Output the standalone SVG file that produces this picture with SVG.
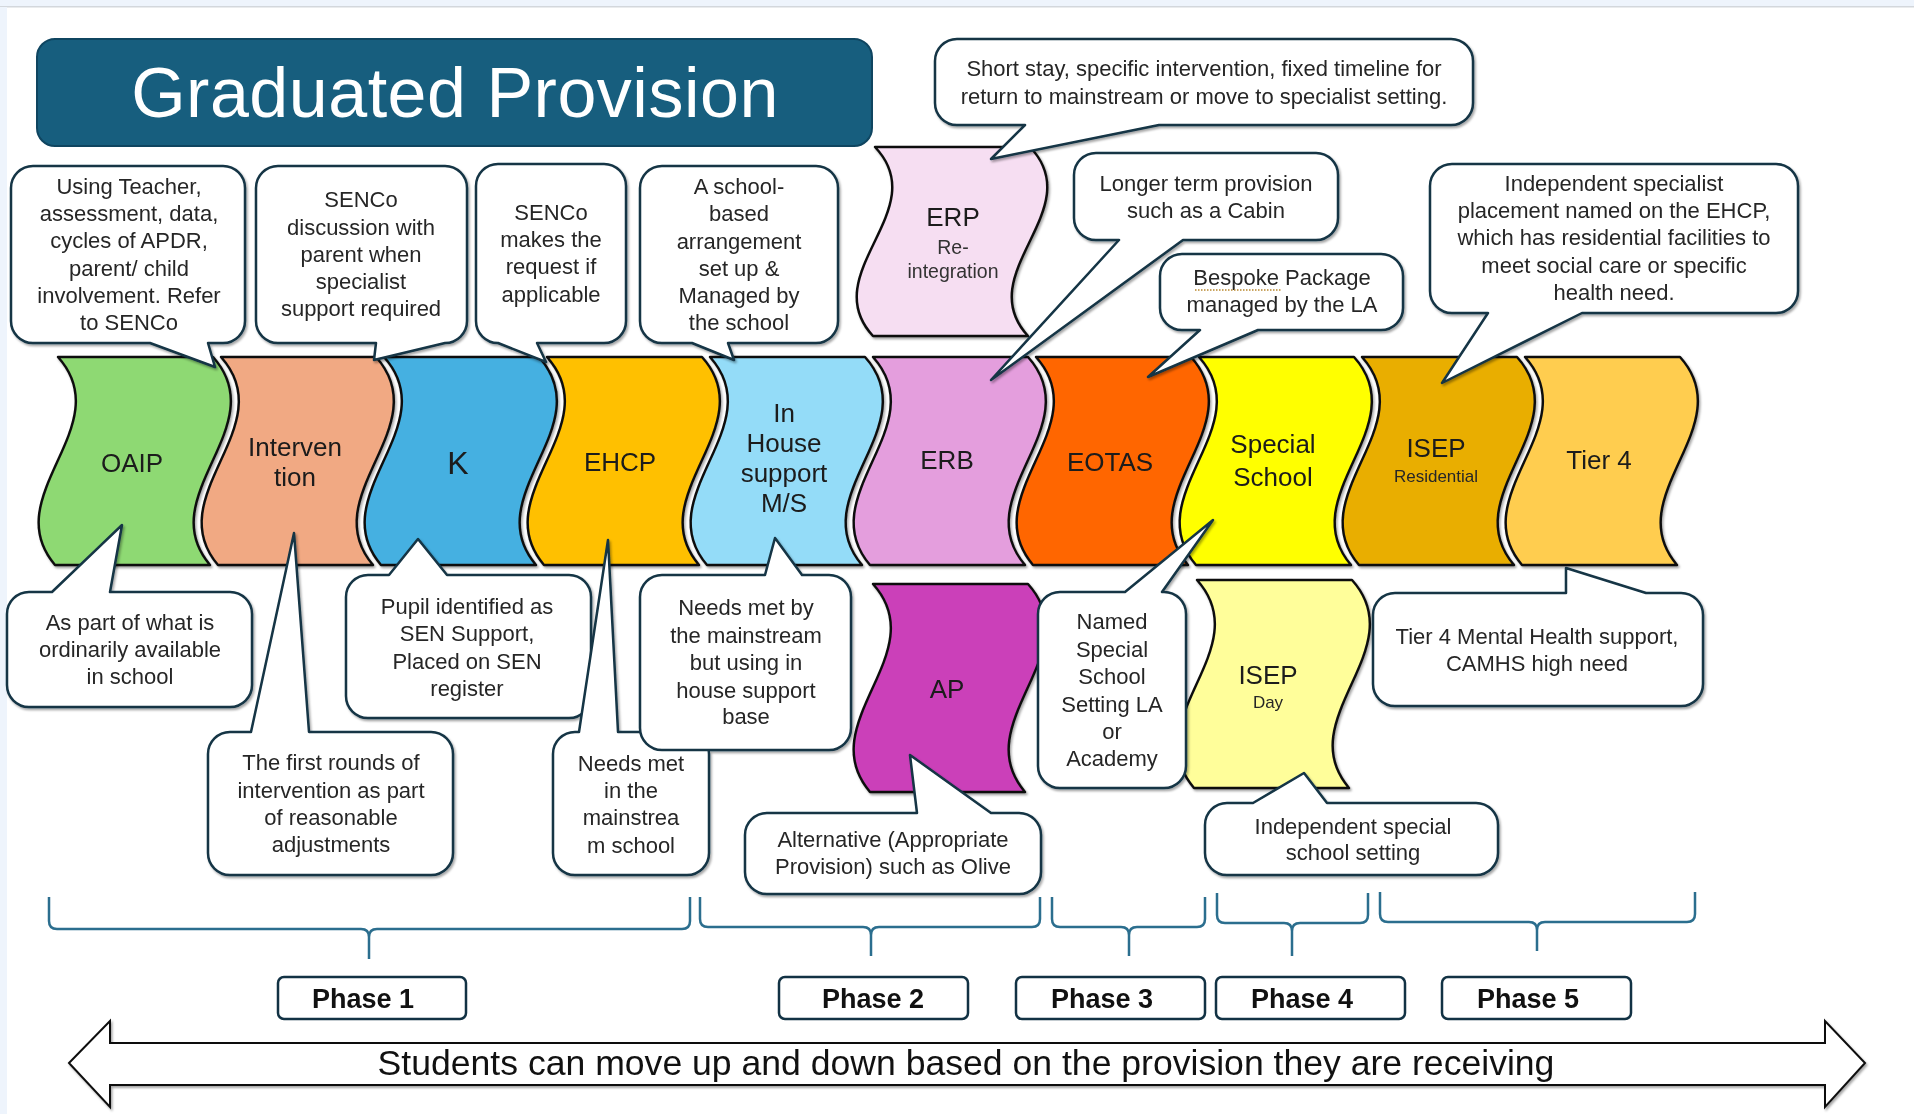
<svg xmlns="http://www.w3.org/2000/svg" xmlns:xlink="http://www.w3.org/1999/xlink" width="1914" height="1114" viewBox="0 0 1914 1114">
<defs>
<style>
text{font-family:"Liberation Sans",Arial,sans-serif;text-anchor:middle}
.ct{font-size:22px;fill:#262626}
.lb{font-size:26px;fill:#1a1a1a}
.sm{font-size:17px;fill:#262626}
.md{font-size:19.5px;fill:#333}
.wave{stroke:#111;stroke-width:2.5;stroke-linejoin:round}
.call{fill:#fff;stroke:#133445;stroke-width:2.5;stroke-linejoin:round}
.brace{fill:none;stroke:#2B6E8E;stroke-width:2.5}
.phase{fill:#fff;stroke:#123244;stroke-width:2.5}
.ph{font-size:27px;font-weight:bold;fill:#111}
</style>
<filter id="sh" x="-10%" y="-10%" width="125%" height="125%">
<feDropShadow dx="1.5" dy="2" stdDeviation="1" flood-color="#000" flood-opacity="0.35"/>
</filter>
<path id="wv" d="M0,0 C62,69 -62,139 -3,208 L152,208 C93,139 217,69 155,0 Z"/>
<path id="wvs" d="M0,0 C60,63 -60,126 -2,189 L153,189 C95,126 215,63 155,0 Z"/>
</defs>
<rect width="1914" height="1114" fill="#fff"/>
<rect width="1914" height="6" fill="#EEF4FC"/>
<rect y="6" width="1914" height="1.5" fill="#D3D7DC"/>
<rect y="7" width="7" height="1107" fill="#EEF4FC"/>

<g id="title">
<rect x="37" y="39" width="835" height="107" rx="18" fill="#175E7E" stroke="#0F4560" stroke-width="2"/>
<text x="455" y="117" style="font-size:70px;fill:#fff;letter-spacing:0.5px">Graduated Provision</text>
</g>

<g id="shapes" filter="url(#sh)">
<g id="oaip"><use xlink:href="#wv" x="58" y="357" fill="#8ED973" class="wave"/><text class="lb" x="132" y="472">OAIP</text></g>
<g id="intervention"><use xlink:href="#wv" x="221" y="357" fill="#F1A983" class="wave"/><text class="lb" x="295" y="456">Interven</text><text class="lb" x="295" y="486">tion</text></g>
<g id="k"><use xlink:href="#wv" x="384" y="357" fill="#45B0E1" class="wave"/><text class="lb" x="458" y="474" style="font-size:32px">K</text></g>
<g id="ehcp"><use xlink:href="#wv" x="547" y="357" fill="#FFC000" class="wave"/><text class="lb" x="620" y="471">EHCP</text></g>
<g id="inhouse"><use xlink:href="#wv" x="710" y="357" fill="#94DCF8" class="wave"/><text class="lb" x="784" y="422">In</text><text class="lb" x="784" y="452">House</text><text class="lb" x="784" y="482">support</text><text class="lb" x="784" y="512">M/S</text></g>
<g id="erb"><use xlink:href="#wv" x="873" y="357" fill="#E49EDD" class="wave"/><text class="lb" x="947" y="469">ERB</text></g>
<g id="eotas"><use xlink:href="#wv" x="1036" y="357" fill="#FF6600" class="wave"/><text class="lb" x="1110" y="471">EOTAS</text></g>
<g id="special"><use xlink:href="#wv" x="1199" y="357" fill="#FFFF00" class="wave"/><text class="lb" x="1273" y="453">Special</text><text class="lb" x="1273" y="486">School</text></g>
<g id="isepres"><use xlink:href="#wv" x="1362" y="357" fill="#E9AE05" class="wave"/><text class="lb" x="1436" y="457">ISEP</text><text class="sm" x="1436" y="482">Residential</text></g>
<g id="tier4"><use xlink:href="#wv" x="1525" y="357" fill="#FFCD4F" class="wave"/><text class="lb" x="1599" y="469">Tier 4</text></g>
<g id="erp"><use xlink:href="#wvs" x="875" y="147" fill="#F6DEF2" class="wave"/><text class="lb" x="953" y="226">ERP</text><text class="md" x="953" y="254">Re-</text><text class="md" x="953" y="278">integration</text></g>
<g id="ap"><use xlink:href="#wv" x="873" y="584" fill="#CB3FB9" class="wave"/><text class="lb" x="947" y="698">AP</text></g>
<g id="isepday"><use xlink:href="#wv" x="1197" y="580" fill="#FFFE9A" class="wave"/><text class="lb" x="1268" y="684">ISEP</text><text class="sm" x="1268" y="708">Day</text></g>
</g>

<g id="callouts" filter="url(#sh)">
<g id="c1"><path class="call" d="M33,166 H223 A22,22 0 0 1 245,188 V321 A22,22 0 0 1 223,343 H208 L215,367 L150,343 H33 A22,22 0 0 1 11,321 V188 A22,22 0 0 1 33,166 Z"/>
<text class="ct" x="129" y="194">Using Teacher,</text><text class="ct" x="129" y="221">assessment, data,</text><text class="ct" x="129" y="248">cycles of APDR,</text><text class="ct" x="129" y="276">parent/ child</text><text class="ct" x="129" y="303">involvement. Refer</text><text class="ct" x="129" y="330">to SENCo</text></g>
<g id="c2"><path class="call" d="M278,166 H445 A22,22 0 0 1 467,188 V321 A22,22 0 0 1 445,343 L374,360 L376,343 H278 A22,22 0 0 1 256,321 V188 A22,22 0 0 1 278,166 Z"/>
<text class="ct" x="361" y="207">SENCo</text><text class="ct" x="361" y="235">discussion with</text><text class="ct" x="361" y="262">parent when</text><text class="ct" x="361" y="289">specialist</text><text class="ct" x="361" y="316">support required</text></g>
<g id="c3"><path class="call" d="M498,164 H604 A22,22 0 0 1 626,186 V321 A22,22 0 0 1 604,343 H537 L546,362 L498,343 A22,22 0 0 1 476,321 V186 A22,22 0 0 1 498,164 Z"/>
<text class="ct" x="551" y="220">SENCo</text><text class="ct" x="551" y="247">makes the</text><text class="ct" x="551" y="274">request if</text><text class="ct" x="551" y="302">applicable</text></g>
<g id="c4"><path class="call" d="M662,166 H816 A22,22 0 0 1 838,188 V321 A22,22 0 0 1 816,343 H728 L734,360 L692,343 H662 A22,22 0 0 1 640,321 V188 A22,22 0 0 1 662,166 Z"/>
<text class="ct" x="739" y="194">A school-</text><text class="ct" x="739" y="221">based</text><text class="ct" x="739" y="249">arrangement</text><text class="ct" x="739" y="276">set up &amp;</text><text class="ct" x="739" y="303">Managed by</text><text class="ct" x="739" y="330">the school</text></g>
<g id="c5"><path class="call" d="M957,39 H1451 A22,22 0 0 1 1473,61 V103 A22,22 0 0 1 1451,125 H1159 L991,159 L1025,125 H957 A22,22 0 0 1 935,103 V61 A22,22 0 0 1 957,39 Z"/>
<text class="ct" x="1204" y="76">Short stay, specific intervention, fixed timeline for</text><text class="ct" x="1204" y="104">return to mainstream or move to specialist setting.</text></g>
<g id="c7"><path class="call" d="M1182,254 H1381 A22,22 0 0 1 1403,276 V308 A22,22 0 0 1 1381,330 H1258 L1148,377 L1200,330 H1182 A22,22 0 0 1 1160,308 V276 A22,22 0 0 1 1182,254 Z"/>
<text class="ct" x="1282" y="285">Bespoke Package</text><text class="ct" x="1282" y="312">managed by the LA</text>
<line x1="1195" y1="290" x2="1282" y2="290" stroke="#B8862B" stroke-width="1.5" stroke-dasharray="1.5,1.5"/></g>
<g id="c6"><path class="call" d="M1096,153 H1316 A22,22 0 0 1 1338,175 V218 A22,22 0 0 1 1316,240 H1183 L991,380 L1119,240 H1096 A22,22 0 0 1 1074,218 V175 A22,22 0 0 1 1096,153 Z"/>
<text class="ct" x="1206" y="191">Longer term provision</text><text class="ct" x="1206" y="218">such as a Cabin</text></g>
<g id="c8"><path class="call" d="M1452,164 H1776 A22,22 0 0 1 1798,186 V291 A22,22 0 0 1 1776,313 H1582 L1442,383 L1488,313 H1452 A22,22 0 0 1 1430,291 V186 A22,22 0 0 1 1452,164 Z"/>
<text class="ct" x="1614" y="191">Independent specialist</text><text class="ct" x="1614" y="218">placement named on the EHCP,</text><text class="ct" x="1614" y="245">which has residential facilities to</text><text class="ct" x="1614" y="273">meet social care or specific</text><text class="ct" x="1614" y="300">health need.</text></g>
<g id="c9"><path class="call" d="M29,592 H52 L122,525 L110,592 H230 A22,22 0 0 1 252,614 V685 A22,22 0 0 1 230,707 H29 A22,22 0 0 1 7,685 V614 A22,22 0 0 1 29,592 Z"/>
<text class="ct" x="130" y="630">As part of what is</text><text class="ct" x="130" y="657">ordinarily available</text><text class="ct" x="130" y="684">in school</text></g>
<g id="c10"><path class="call" d="M230,732 H251 L294,533 L309,732 H431 A22,22 0 0 1 453,754 V853 A22,22 0 0 1 431,875 H230 A22,22 0 0 1 208,853 V754 A22,22 0 0 1 230,732 Z"/>
<text class="ct" x="331" y="770">The first rounds of</text><text class="ct" x="331" y="798">intervention as part</text><text class="ct" x="331" y="825">of reasonable</text><text class="ct" x="331" y="852">adjustments</text></g>
<g id="c11"><path class="call" d="M368,575 H389 L418,539 L447,575 H569 A22,22 0 0 1 591,597 V696 A22,22 0 0 1 569,718 H368 A22,22 0 0 1 346,696 V597 A22,22 0 0 1 368,575 Z"/>
<text class="ct" x="467" y="614">Pupil identified as</text><text class="ct" x="467" y="641">SEN Support,</text><text class="ct" x="467" y="669">Placed on SEN</text><text class="ct" x="467" y="696">register</text></g>
<g id="c12"><path class="call" d="M575,732 H579 L608,540 L618,732 H687 A22,22 0 0 1 709,754 V853 A22,22 0 0 1 687,875 H575 A22,22 0 0 1 553,853 V754 A22,22 0 0 1 575,732 Z"/>
<text class="ct" x="631" y="771">Needs met</text><text class="ct" x="631" y="798">in the</text><text class="ct" x="631" y="825">mainstrea</text><text class="ct" x="631" y="853">m school</text></g>
<g id="c13"><path class="call" d="M662,575 H765 L775,538 L802,575 H829 A22,22 0 0 1 851,597 V728 A22,22 0 0 1 829,750 H662 A22,22 0 0 1 640,728 V597 A22,22 0 0 1 662,575 Z"/>
<text class="ct" x="746" y="615">Needs met by</text><text class="ct" x="746" y="643">the mainstream</text><text class="ct" x="746" y="670">but using in</text><text class="ct" x="746" y="698">house support</text><text class="ct" x="746" y="724">base</text></g>
<g id="c14"><path class="call" d="M767,813 H917 L910,755 L991,813 H1019 A22,22 0 0 1 1041,835 V872 A22,22 0 0 1 1019,894 H767 A22,22 0 0 1 745,872 V835 A22,22 0 0 1 767,813 Z"/>
<text class="ct" x="893" y="847">Alternative (Appropriate</text><text class="ct" x="893" y="874">Provision) such as Olive</text></g>
<g id="c15"><path class="call" d="M1060,592 H1125 L1213,520 L1162,592 H1164 A22,22 0 0 1 1186,614 V766 A22,22 0 0 1 1164,788 H1060 A22,22 0 0 1 1038,766 V614 A22,22 0 0 1 1060,592 Z"/>
<text class="ct" x="1112" y="629">Named</text><text class="ct" x="1112" y="657">Special</text><text class="ct" x="1112" y="684">School</text><text class="ct" x="1112" y="712">Setting LA</text><text class="ct" x="1112" y="739">or</text><text class="ct" x="1112" y="766">Academy</text></g>
<g id="c16"><path class="call" d="M1395,593 H1566 V568 L1646,593 H1681 A22,22 0 0 1 1703,615 V684 A22,22 0 0 1 1681,706 H1395 A22,22 0 0 1 1373,684 V615 A22,22 0 0 1 1395,593 Z"/>
<text class="ct" x="1537" y="644">Tier 4 Mental Health support,</text><text class="ct" x="1537" y="671">CAMHS high need</text></g>
<g id="c17"><path class="call" d="M1227,803 H1253 L1304,773 L1327,803 H1476 A22,22 0 0 1 1498,825 V853 A22,22 0 0 1 1476,875 H1227 A22,22 0 0 1 1205,853 V825 A22,22 0 0 1 1227,803 Z"/>
<text class="ct" x="1353" y="834">Independent special</text><text class="ct" x="1353" y="860">school setting</text></g>
</g>

<g id="braces">
<path class="brace" d="M49,897 V921 Q49,929 57,929 H361 Q369,929 369,937 V959 M369,937 Q369,929 377,929 H682 Q690,929 690,921 V897"/>
<path class="brace" d="M700,897 V919 Q700,927 708,927 H863 Q871,927 871,935 V956 M871,935 Q871,927 879,927 H1032 Q1040,927 1040,919 V897"/>
<path class="brace" d="M1052,897 V919 Q1052,927 1060,927 H1121 Q1129,927 1129,935 V956 M1129,935 Q1129,927 1137,927 H1197 Q1205,927 1205,919 V897"/>
<path class="brace" d="M1217,893 V915 Q1217,923 1225,923 H1284 Q1292,923 1292,931 V956 M1292,931 Q1292,923 1300,923 H1360 Q1368,923 1368,915 V893"/>
<path class="brace" d="M1380,892 V914 Q1380,922 1388,922 H1529 Q1537,922 1537,930 V951 M1537,930 Q1537,922 1545,922 H1687 Q1695,922 1695,914 V892"/>
</g>

<g id="phases">
<g id="phase1"><rect class="phase" x="278" y="977" width="188" height="42" rx="6"/><text class="ph" x="363" y="1008">Phase 1</text></g>
<g id="phase2"><rect class="phase" x="779" y="977" width="189" height="42" rx="6"/><text class="ph" x="873" y="1008">Phase 2</text></g>
<g id="phase3"><rect class="phase" x="1016" y="977" width="189" height="42" rx="6"/><text class="ph" x="1102" y="1008">Phase 3</text></g>
<g id="phase4"><rect class="phase" x="1216" y="977" width="189" height="42" rx="6"/><text class="ph" x="1302" y="1008">Phase 4</text></g>
<g id="phase5"><rect class="phase" x="1442" y="977" width="189" height="42" rx="6"/><text class="ph" x="1528" y="1008">Phase 5</text></g>
</g>

<g id="arrow">
<path d="M69,1063 L110,1021 L110,1043 L1825,1043 L1825,1021 L1865,1063 L1825,1107 L1825,1085 L110,1085 L110,1107 Z" fill="#fff" stroke="#111" stroke-width="2" filter="url(#sh)"/>
<text x="966" y="1075" style="font-size:35.6px;fill:#111">Students can move up and down based on the provision they are receiving</text>
</g>
</svg>
